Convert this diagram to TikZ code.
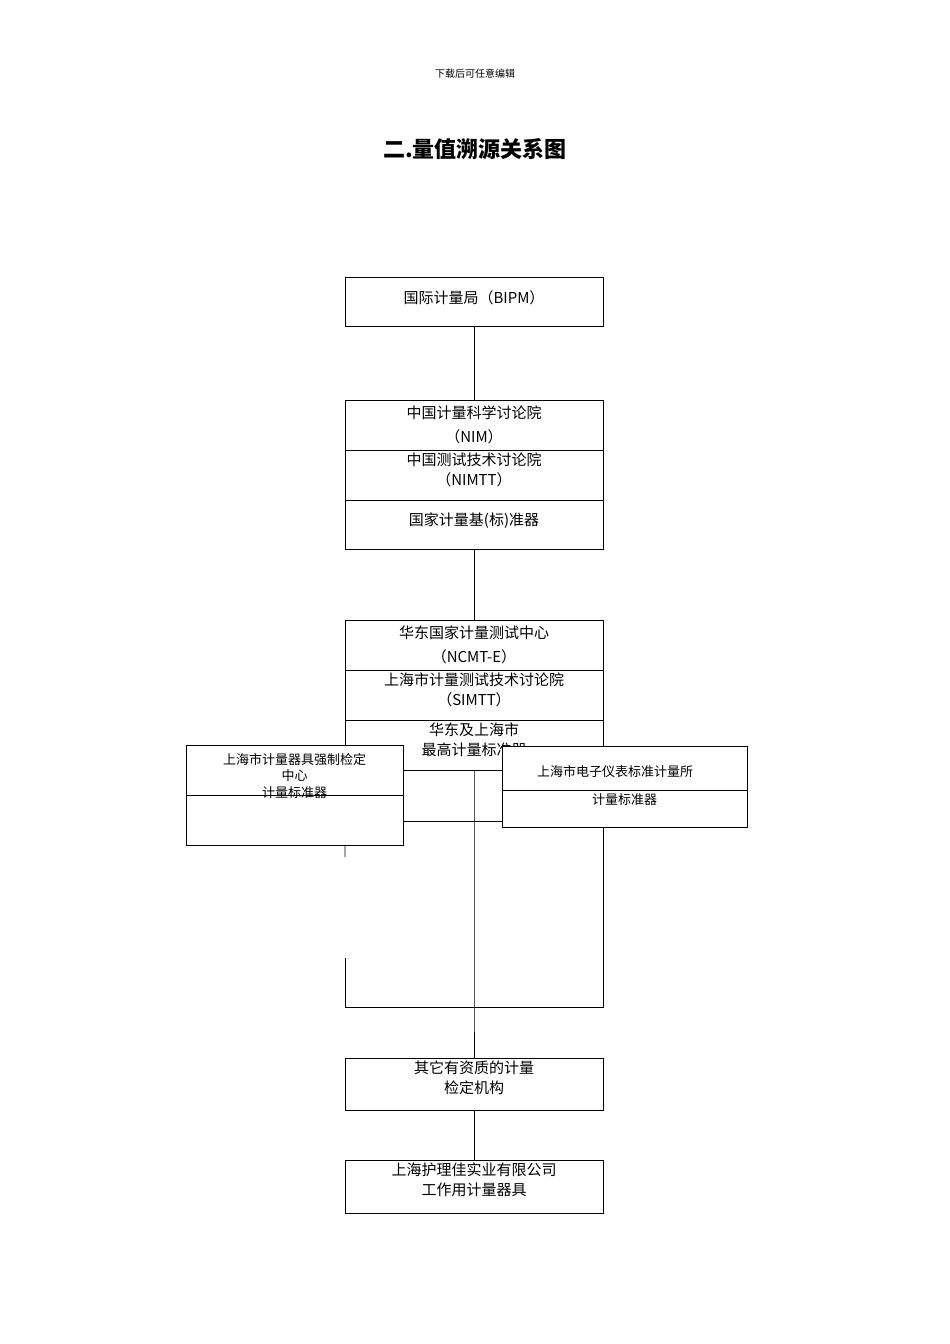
\documentclass[tikz,border=0pt]{standalone}
\usepackage{fontspec}
\setmainfont{Noto Sans CJK SC}
\begin{document}
\begin{tikzpicture}[x=1pt,y=-1pt,
  box/.style={draw,thick,fill=white,inner sep=0,minimum width=258pt},
  t/.style={inner sep=0,font=\fontsize{15}{15}\selectfont},
  s/.style={inner sep=0,font=\fontsize{13}{13}\selectfont},
  ln/.style={thick}]
\useasboundingbox (0,0) rectangle (950,1344);
\node[inner sep=0,font=\fontsize{10}{10}\selectfont] (hdr) at (475,74) {下载后可任意编辑};
\node[inner sep=0,font=\fontsize{22}{22}\selectfont\bfseries] (title) at (475,149) {二.量值溯源关系图};
% boxes
\node[box,minimum height=49pt] (bipm) at (474,301.5) {};
\node[box,minimum height=50pt] (nim) at (474,425) {};
\node[box,minimum height=50pt] (nimtt) at (474,475) {};
\node[box,minimum height=49pt] (gj) at (474,524.5) {};
\node[box,minimum height=50pt] (ncmt) at (474,645) {};
\node[box,minimum height=50pt] (simtt) at (474,695) {};
\node[box,minimum height=50pt] (hd) at (474,745) {};
\node[box,minimum height=52pt] (other) at (474,1084) {};
\node[box,minimum height=53pt] (hlj) at (474,1186.5) {};
\coordinate (bl) at (345,1007);
\coordinate (br) at (603,1007);
\coordinate (lt) at (345,857);
\coordinate (lb) at (345,958);
\coordinate (rt) at (603,827);
\coordinate (ml) at (403,821);
\coordinate (mr) at (503,821);
\coordinate (cb) at (474,1007);
% connectors
\draw[ln] (bipm.south) -- (nim.north);
\draw[ln] (gj.south) -- (ncmt.north);
\draw[ln] (hd.south) -- (cb) -- (other.north);
\draw[ln] (other.south) -- (hlj.north);
\draw[ln] (lb) -- (bl) -- (br) -- (rt);
\draw[ln] (hd.south west) -- (lt);
\draw[ln] (ml) -- (mr);
% texts in center
\node[t] at (474,298) {国际计量局（BIPM）};
\node[t] at (474,413) {中国计量科学讨论院};
\node[t] at (474,437) {（NIM）};
\node[t] at (474,460) {中国测试技术讨论院};
\node[t] at (474,480) {（NIMTT）};
\node[t] at (474,521) {国家计量基(标)准器};
\node[t] at (474,633) {华东国家计量测试中心};
\node[t] at (474,657) {（NCMT-E）};
\node[t] at (474,680) {上海市计量测试技术讨论院};
\node[t] at (474,700) {（SIMTT）};
\node[t] at (474,730) {华东及上海市};
\node[t] at (474,750) {最高计量标准器};
\node[t] at (474,1068) {其它有资质的计量};
\node[t] at (474,1088) {检定机构};
\node[t] at (474,1170) {上海护理佳实业有限公司};
\node[t] at (474,1190) {工作用计量器具};
% side boxes
\node[draw,thick,fill=white,minimum width=217pt,minimum height=50pt,inner sep=0] (lbx1) at (294.5,770) {};
\node[draw,thick,fill=white,minimum width=217pt,minimum height=50pt,inner sep=0] (lbx2) at (294.5,820) {};
\node[s] at (294.5,760) {上海市计量器具强制检定};
\node[s] at (294.5,776) {中心};
\node[s] at (294.5,793) {计量标准器};
\node[draw,thick,fill=white,minimum width=245pt,minimum height=44pt,inner sep=0] (rbx1) at (624.5,768) {};
\node[draw,thick,fill=white,minimum width=245pt,minimum height=37pt,inner sep=0] (rbx2) at (624.5,808.5) {};
\node[s] at (615,772) {上海市电子仪表标准计量所};
\node[s] at (624.5,800) {计量标准器};
\end{tikzpicture}
\end{document}
